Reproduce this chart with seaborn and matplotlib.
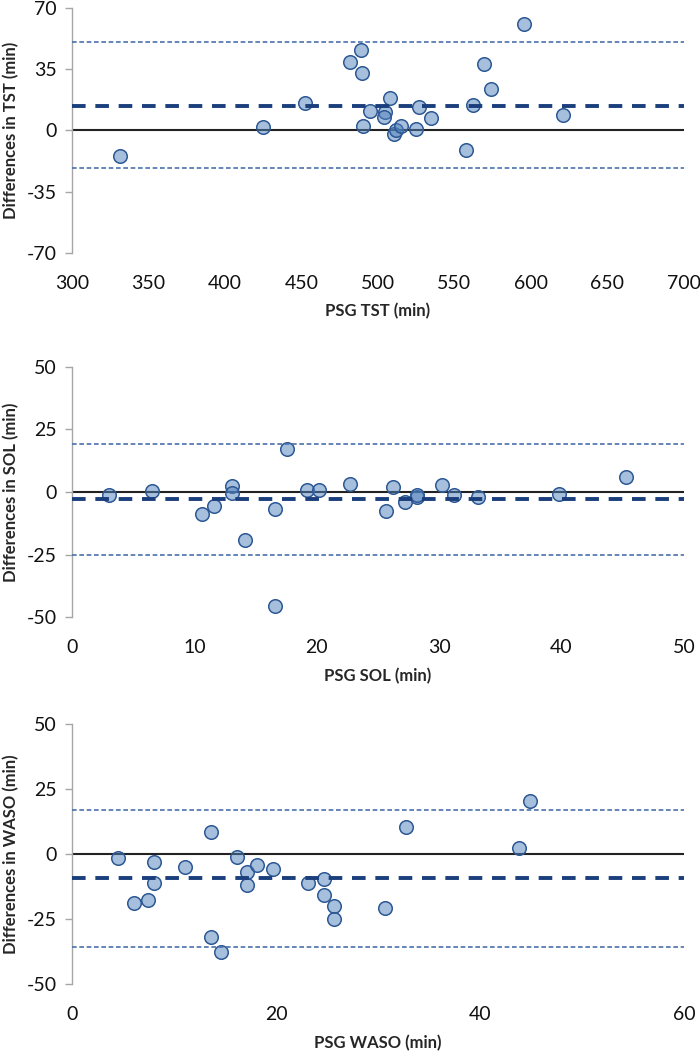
import matplotlib
matplotlib.use("Agg")
import matplotlib.pyplot as plt
import pandas as pd
import seaborn as sns

# Bland-Altman data
tst_psg = [331.4, 425.0, 452.0, 481.8, 489.2, 489.7, 494.5, 490.5, 507.6, 504.5,
           503.9, 510.4, 511.5, 515.4, 525.1, 526.8, 534.9, 557.4, 562.2, 569.2,
           574.0, 595.2, 620.9]
tst_diff = [-14.5, 2.1, 15.7, 38.9, 45.8, 32.6, 11.4, 2.3, 18.3, 10.7,
            7.7, -2.1, 0.4, 2.3, 1.1, 13.6, 6.9, -11.0, 14.7, 38.0,
            23.9, 60.9, 8.8]

sol_psg = [3.05, 6.56, 10.6, 11.6, 13.1, 13.1, 14.1, 16.6, 16.6, 17.6,
           19.2, 20.2, 22.7, 26.2, 25.7, 27.2, 28.2, 28.2, 30.2, 31.2,
           33.2, 39.8, 45.3]
sol_diff = [-1.2, 0.3, -8.6, -5.6, 2.3, -0.4, -19.1, -6.9, -45.6, 17.2,
            0.9, 0.9, 3.2, 1.9, -7.7, -4.2, -2.0, -1.1, 2.8, -1.1,
            -2.0, -0.7, 5.9]

waso_psg = [4.54, 6.08, 7.48, 8.07, 8.07, 11.08, 13.63, 13.63, 14.64, 16.14,
            17.19, 17.19, 18.17, 19.67, 23.17, 24.7, 24.7, 25.7, 25.7, 30.7,
            32.75, 43.85, 44.9]
waso_diff = [-1.5, -19.0, -17.7, -3.1, -11.2, -5.1, 8.5, -31.7, -37.7, -1.0,
             -7.1, -12.1, -4.2, -5.7, -11.2, -9.6, -15.8, -19.8, -24.8, -20.7,
             10.5, 2.3, 20.4]

# bias, upper and lower limits of agreement
tst_lines = [14.1, 50.4, -21.5]
sol_lines = [-3.0, 19.1, -25.3]
waso_lines = [-9.4, 16.9, -35.7]

panels = [
    ("TST", tst_psg, tst_diff, tst_lines, (300, 700), range(300, 701, 50), (-70, 70), [-70, -35, 0, 35, 70]),
    ("SOL", sol_psg, sol_diff, sol_lines, (0, 50), range(0, 51, 10), (-50, 50), [-50, -25, 0, 25, 50]),
    ("WASO", waso_psg, waso_diff, waso_lines, (0, 60), range(0, 61, 20), (-50, 50), [-50, -25, 0, 25, 50]),
]

sns.set_style("white")
plt.rcParams['font.family'] = ['Lato', 'DejaVu Sans']
plt.rcParams['axes.unicode_minus'] = False

fig = plt.figure(figsize=(7, 10.51), dpi=100)
boxes = [[0.1029, 0.7593, 0.874, 0.2331],
         [0.1029, 0.4127, 0.874, 0.2384],
         [0.1029, 0.0635, 0.874, 0.2480]]

for box, (name, xs, ys, lines, xlim, xt, ylim, yt) in zip(boxes, panels):
    ax = fig.add_axes(box)
    df = pd.DataFrame({"psg": xs, "diff": ys})
    ax.axhline(0, color="#222222", lw=1.5, zorder=2)
    sns.scatterplot(data=df, x="psg", y="diff", ax=ax, s=95,
                    color=(79/255, 129/255, 189/255, 0.5),
                    edgecolor="#2d5894", linewidth=1.1, zorder=3)
    ax.axhline(lines[0], color="#1b3f7c", lw=2.8, dashes=(3.5, 2.5), zorder=4)
    ax.axhline(lines[1], color="#4a70ad", lw=1.2, dashes=(2.8, 1.6), zorder=4)
    ax.axhline(lines[2], color="#4a70ad", lw=1.2, dashes=(2.8, 1.6), zorder=4)

    ax.set_xlim(*xlim)
    ax.set_ylim(*ylim)
    ax.set_xticks(list(xt))
    ax.set_yticks(yt)
    for s in ["top", "right", "bottom"]:
        ax.spines[s].set_visible(False)
    ax.spines["left"].set_color("#a6a6a6")
    ax.spines["left"].set_linewidth(1.0)
    ax.tick_params(axis="y", direction="out", length=5, width=1.0, color="#a6a6a6",
                   left=True, labelsize=14, pad=6, labelcolor="#111111")
    ax.tick_params(axis="x", length=0, labelsize=14, pad=16, labelcolor="#111111")
    ax.set_xlabel("PSG " + name + " (min)", fontsize=12, fontweight="bold", labelpad=8)
    ax.set_ylabel("Differences in " + name + " (min)", fontsize=12, fontweight="bold", labelpad=5)
    ax.grid(False)

fig.savefig("out.png", dpi=100)
